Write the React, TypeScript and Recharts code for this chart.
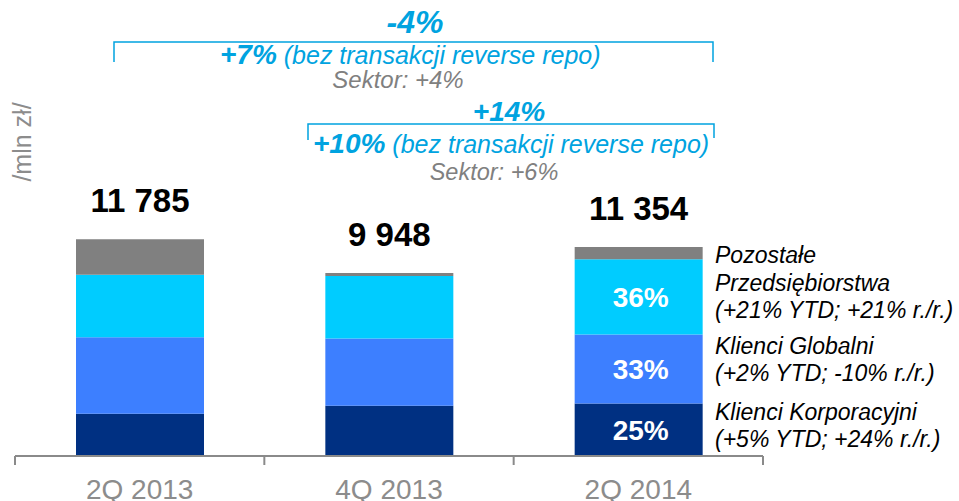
import React from "react";
import { BarChart, Bar, XAxis, YAxis, LabelList } from "recharts";

// ---- data ----
const categories = ["2Q 2013", "4Q 2013", "2Q 2014"];
const korporacyjni = [2301, 2737, 2850];
const globalni = [4157, 3645, 3750];
const przedsiebiorstwa = [3390, 3395, 4090];
const pozostale = [1937, 171, 664];
const totals = [11785, 9948, 11354];
const pctKorporacyjni = ["", "", "25%"];
const pctGlobalni = ["", "", "33%"];
const pctPrzedsiebiorstwa = ["", "", "36%"];

const data = categories.map((c, i) => ({
  name: c,
  korp: korporacyjni[i],
  glob: globalni[i],
  przed: przedsiebiorstwa[i],
  poz: pozostale[i],
  total: totals[i],
  pKorp: pctKorporacyjni[i],
  pGlob: pctGlobalni[i],
  pPrzed: pctPrzedsiebiorstwa[i],
}));

// ---- layout & style ----
const W = 959;
const H = 501;
const MARGIN = { top: 88, right: 196, bottom: 15, left: 15 };
const BAND = (W - MARGIN.left - MARGIN.right) / categories.length;
const FONT = "'Liberation Sans', Arial, Helvetica, sans-serif";
const NAVY = "#003082";
const BLUE = "#3d7fff";
const CYAN = "#00ccff";
const GREY = "#808080";
const AXIS = "#8a8a8a";
const ANNO = "#00a3e0";

const fmt = (v: number) => String(v).replace(/\B(?=(\d{3})+(?!\d))/g, " ");

const Tick = (props: any) => {
  const { x, y, payload, index } = props;
  const left = x - BAND / 2;
  const right = x + BAND / 2;
  return (
    <g>
      <line x1={left} x2={left} y1={y} y2={y + 9} stroke={AXIS} strokeWidth={2} />
      {index === categories.length - 1 && (
        <line x1={right} x2={right} y1={y} y2={y + 9} stroke={AXIS} strokeWidth={2} />
      )}
      <text x={x} y={y} dy={43} textAnchor="middle" fill="#8c8c8c" fontSize={28} fontFamily={FONT}>
        {payload.value}
      </text>
    </g>
  );
};

const PctLabel = (props: any) => {
  const { x, y, width, height, value } = props;
  if (!value) return null;
  return (
    <text
      x={x + width / 2 + 2}
      y={y + height / 2}
      dy={10}
      textAnchor="middle"
      fill="#ffffff"
      fontWeight="bold"
      fontSize={28}
      fontFamily={FONT}
    >
      {value}
    </text>
  );
};

const legend = [
  { t: "Pozostałe", y: 263 },
  { t: "Przedsiębiorstwa", y: 291 },
  { t: "(+21% YTD; +21% r./r.)", y: 318 },
  { t: "Klienci Globalni", y: 354 },
  { t: "(+2% YTD; -10% r./r.)", y: 381 },
  { t: "Klienci Korporacyjni", y: 420 },
  { t: "(+5% YTD; +24% r./r.)", y: 447 },
];

export default function App() {
  return (
    <div style={{ position: "absolute", left: 0, top: 0, width: W, height: H, background: "#fff", fontFamily: FONT }}>
      <BarChart width={W} height={H} data={data} margin={MARGIN}>
        <YAxis hide domain={[0, 20000]} />
        <XAxis
          dataKey="name"
          height={30}
          axisLine={{ stroke: AXIS, strokeWidth: 2 }}
          tickLine={false}
          tickSize={0}
          tickMargin={0}
          interval={0}
          tick={<Tick />}
        />
        <Bar dataKey="korp" stackId="a" fill={NAVY} barSize={128} isAnimationActive={false}>
          <LabelList dataKey="pKorp" content={<PctLabel />} />
        </Bar>
        <Bar dataKey="glob" stackId="a" fill={BLUE} barSize={128} isAnimationActive={false}>
          <LabelList dataKey="pGlob" content={<PctLabel />} />
        </Bar>
        <Bar dataKey="przed" stackId="a" fill={CYAN} barSize={128} isAnimationActive={false}>
          <LabelList dataKey="pPrzed" content={<PctLabel />} />
        </Bar>
        <Bar dataKey="poz" stackId="a" fill={GREY} barSize={128} isAnimationActive={false}>
          <LabelList
            dataKey="total"
            position="top"
            offset={27}
            formatter={(v: any) => fmt(Number(v))}
            fill="#000"
            fontWeight="bold"
            fontSize={33}
            fontFamily={FONT}
          />
        </Bar>
      </BarChart>
      <svg
        width={W}
        height={H}
        style={{ position: "absolute", left: 0, top: 0, pointerEvents: "none" }}
        fontFamily={FONT}
      >
        {/* unit label */}
        <text
          transform="translate(31,142) rotate(-90)"
          textAnchor="middle"
          fill="#8c8c8c"
          fontSize={25}
        >
          /mln zł/
        </text>

        {/* bracket 1 */}
        <path d="M114,62 V42 H713 V62" fill="none" stroke={ANNO} strokeWidth={1.5} />
        <text x={415} y={33} textAnchor="middle" fill={ANNO} fontWeight="bold" fontStyle="italic" fontSize={32}>
          -4%
        </text>
        <text x={220} y={64} fill={ANNO} fontStyle="italic">
          <tspan fontWeight="bold" fontSize={28}>+7%</tspan>
          <tspan fontSize={25}> (bez transakcji reverse repo)</tspan>
        </text>
        <text x={398} y={88} textAnchor="middle" fill={GREY} fontStyle="italic" fontSize={24}>
          Sektor: +4%
        </text>

        {/* bracket 2 */}
        <path d="M308,140 V124 H714 V138" fill="none" stroke={ANNO} strokeWidth={1.5} />
        <text x={509} y={121} textAnchor="middle" fill={ANNO} fontWeight="bold" fontStyle="italic" fontSize={28}>
          +14%
        </text>
        <text x={313} y={153} fill={ANNO} fontStyle="italic">
          <tspan fontWeight="bold" fontSize={28}>+10%</tspan>
          <tspan fontSize={25}> (bez transakcji reverse repo)</tspan>
        </text>
        <text x={494} y={180} textAnchor="middle" fill={GREY} fontStyle="italic" fontSize={23.5}>
          Sektor: +6%
        </text>

        {/* series descriptions */}
        {legend.map((l) => (
          <text key={l.t} x={715} y={l.y} fill="#000" fontStyle="italic" fontSize={23}>
            {l.t}
          </text>
        ))}
      </svg>
    </div>
  );
}
